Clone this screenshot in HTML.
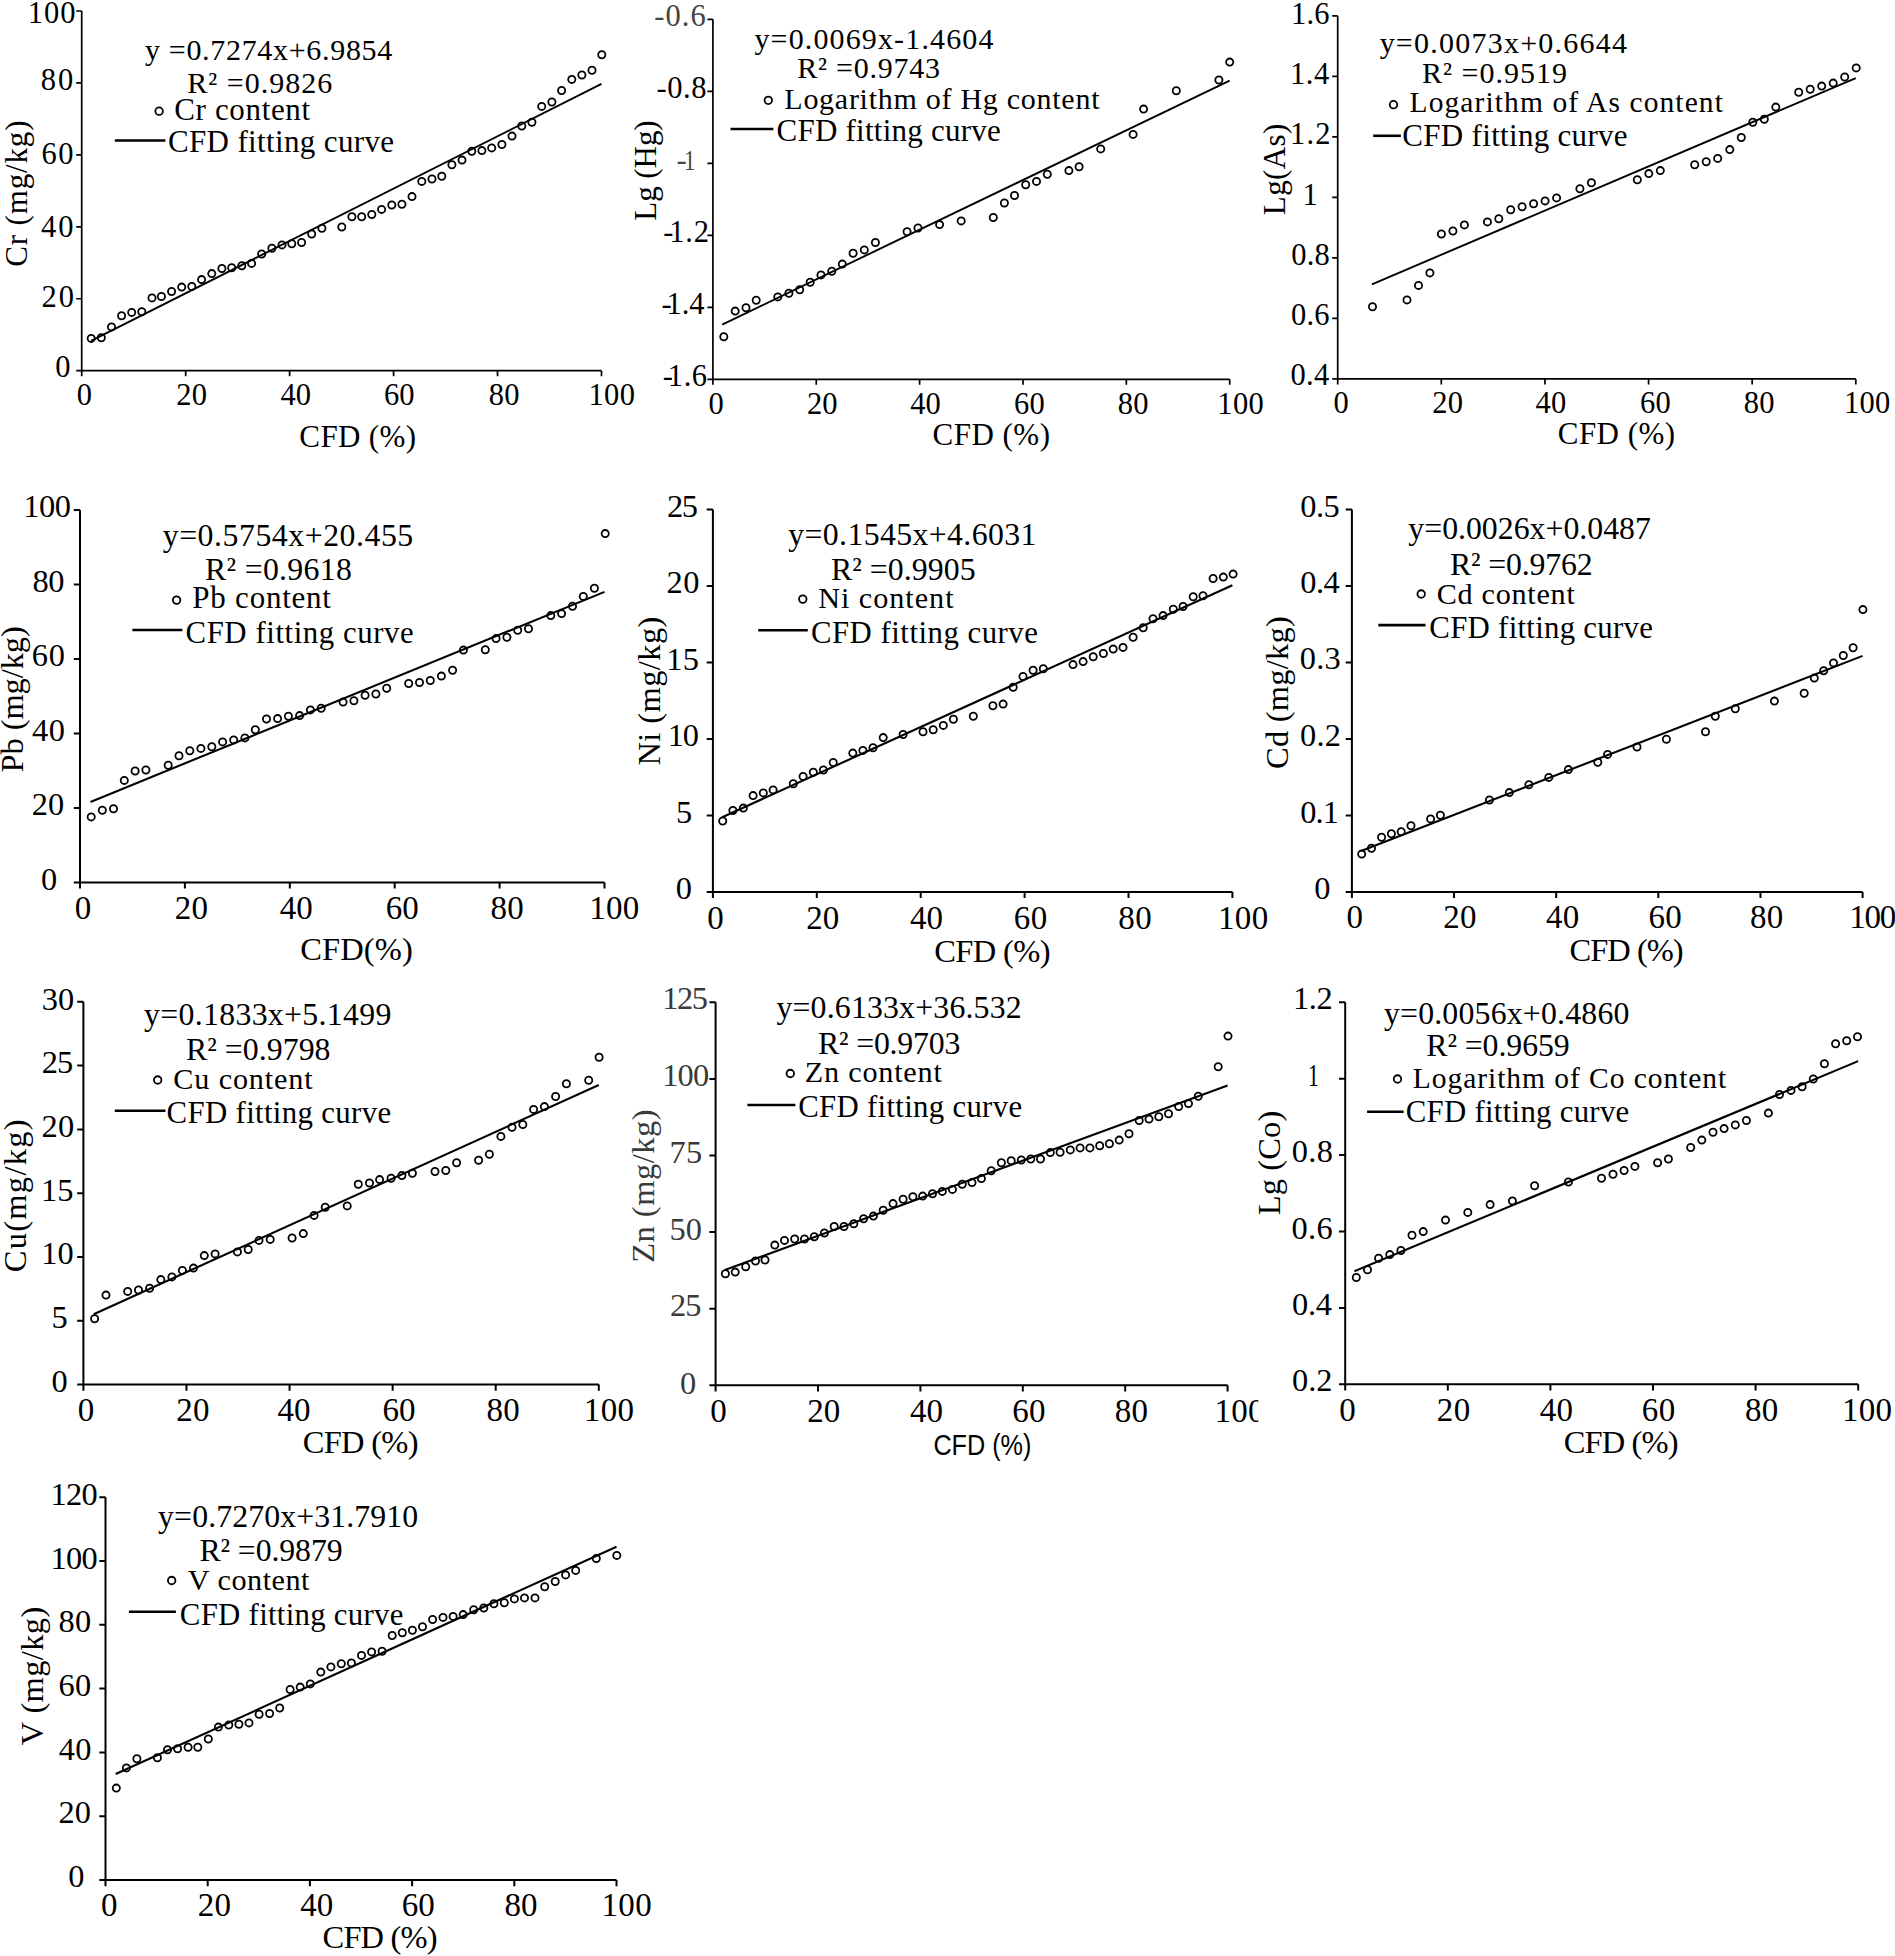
<!DOCTYPE html>
<html><head><meta charset="utf-8"><title>CFD fitting curves</title>
<style>
html,body{margin:0;padding:0;background:#fff;}
body{width:1895px;height:1956px;overflow:hidden;}
svg{display:block;}
text{font-family:"Liberation Serif","Times New Roman",serif;}
text.sans{font-family:"Liberation Sans",Arial,sans-serif;}
text.dejavu{font-family:"DejaVu Sans",sans-serif;}
.ax{fill:none;stroke:#000;}
.fit{fill:none;stroke:#000;}
.lg{fill:none;stroke:#000;stroke-width:2.6;}
.pt circle,.mk{fill:none;stroke:#000;stroke-width:1.8;}
</style></head><body>
<svg width="1895" height="1956" viewBox="0 0 1895 1956">
<path d="M81.70 11.00V370.70H601.50M76.20 370.70H81.70M76.20 298.76H81.70M76.20 226.82H81.70M76.20 154.88H81.70M76.20 82.94H81.70M76.20 11.00H81.70M81.70 370.70V376.20M185.66 370.70V376.20M289.62 370.70V376.20M393.58 370.70V376.20M497.54 370.70V376.20M601.50 370.70V376.20" class="ax" stroke-width="1.70"/>
<path d="M91.06 340.86L601.50 83.93" class="fit" stroke-width="1.90"/>
<g class="pt"><circle cx="91.2" cy="338.4" r="3.60"/><circle cx="101.3" cy="337.7" r="3.60"/><circle cx="111.5" cy="326.9" r="3.60"/><circle cx="121.6" cy="315.8" r="3.60"/><circle cx="131.7" cy="312.4" r="3.60"/><circle cx="141.8" cy="311.7" r="3.60"/><circle cx="152.0" cy="297.9" r="3.60"/><circle cx="161.4" cy="296.5" r="3.60"/><circle cx="171.6" cy="291.5" r="3.60"/><circle cx="181.7" cy="287.1" r="3.60"/><circle cx="191.8" cy="286.4" r="3.60"/><circle cx="201.6" cy="279.6" r="3.60"/><circle cx="211.8" cy="273.6" r="3.60"/><circle cx="221.9" cy="268.5" r="3.60"/><circle cx="231.7" cy="267.8" r="3.60"/><circle cx="241.8" cy="265.8" r="3.60"/><circle cx="251.6" cy="263.4" r="3.60"/><circle cx="261.7" cy="254.0" r="3.60"/><circle cx="271.9" cy="248.2" r="3.60"/><circle cx="282.0" cy="244.9" r="3.60"/><circle cx="291.8" cy="243.8" r="3.60"/><circle cx="301.6" cy="242.5" r="3.60"/><circle cx="311.7" cy="234.0" r="3.60"/><circle cx="321.9" cy="228.3" r="3.60"/><circle cx="341.8" cy="227.0" r="3.60"/><circle cx="351.9" cy="216.8" r="3.60"/><circle cx="361.7" cy="216.8" r="3.60"/><circle cx="371.8" cy="214.5" r="3.60"/><circle cx="381.6" cy="209.4" r="3.60"/><circle cx="391.8" cy="205.0" r="3.60"/><circle cx="401.9" cy="204.3" r="3.60"/><circle cx="412.0" cy="196.6" r="3.60"/><circle cx="421.8" cy="181.4" r="3.60"/><circle cx="432.0" cy="179.0" r="3.60"/><circle cx="441.8" cy="176.3" r="3.60"/><circle cx="451.9" cy="164.8" r="3.60"/><circle cx="462.0" cy="160.1" r="3.60"/><circle cx="471.8" cy="151.3" r="3.60"/><circle cx="481.9" cy="150.6" r="3.60"/><circle cx="491.7" cy="147.9" r="3.60"/><circle cx="501.9" cy="144.5" r="3.60"/><circle cx="512.0" cy="136.1" r="3.60"/><circle cx="521.8" cy="126.0" r="3.60"/><circle cx="531.9" cy="122.3" r="3.60"/><circle cx="541.7" cy="106.4" r="3.60"/><circle cx="551.9" cy="102.0" r="3.60"/><circle cx="561.6" cy="90.5" r="3.60"/><circle cx="571.8" cy="79.4" r="3.60"/><circle cx="581.9" cy="75.0" r="3.60"/><circle cx="592.0" cy="70.2" r="3.60"/><circle cx="601.8" cy="54.7" r="3.60"/></g>
<text x="27.82" y="22.80" font-size="30.50" textLength="47.64" lengthAdjust="spacing">100</text>
<text x="40.74" y="90.00" font-size="30.50" textLength="32.52" lengthAdjust="spacing">80</text>
<text x="41.39" y="164.00" font-size="30.50" textLength="32.17" lengthAdjust="spacing">60</text>
<text x="41.00" y="236.70" font-size="30.50" textLength="32.56" lengthAdjust="spacing">40</text>
<text x="41.56" y="306.60" font-size="30.50" textLength="32.40" lengthAdjust="spacing">20</text>
<text x="55.14" y="377.40" font-size="30.50">0</text>
<text x="76.78" y="404.50" font-size="30.50">0</text>
<text x="176.21" y="404.50" font-size="30.50" textLength="30.80" lengthAdjust="spacing">20</text>
<text x="280.38" y="404.50" font-size="30.50">40</text>
<text x="384.03" y="404.50" font-size="30.50">60</text>
<text x="488.80" y="404.50" font-size="30.50" textLength="30.80" lengthAdjust="spacing">80</text>
<text x="588.57" y="404.50" font-size="30.50" textLength="46.35" lengthAdjust="spacing">100</text>
<text x="299.33" y="446.50" font-size="31.00" textLength="116.73" lengthAdjust="spacing">CFD (%)</text>
<g transform="translate(27.21 265.40) rotate(-90)"><text x="-1.27" y="0.00" font-size="31.00" textLength="146.13" lengthAdjust="spacing">Cr (mg/kg)</text></g>
<text x="144.93" y="59.80" font-size="30.00" textLength="247.33" lengthAdjust="spacing">y =0.7274x+6.9854</text>
<text x="187.24" y="93.10" font-size="30.00" textLength="144.96" lengthAdjust="spacing">R² =0.9826</text>
<circle cx="159.10" cy="111.20" r="3.75" class="mk"/>
<text x="174.23" y="120.20" font-size="31.00" textLength="135.85" lengthAdjust="spacing">Cr content</text>
<path d="M114.80 140.50H165.40" class="lg"/>
<text x="167.93" y="152.00" font-size="31.00" textLength="226.15" lengthAdjust="spacing">CFD fitting curve</text>
<path d="M712.90 19.30V379.30H1229.70M707.40 379.30H712.90M707.40 307.30H712.90M707.40 235.30H712.90M707.40 163.30H712.90M707.40 91.30H712.90M707.40 19.30H712.90M712.90 379.30V384.80M816.26 379.30V384.80M919.62 379.30V384.80M1022.98 379.30V384.80M1126.34 379.30V384.80M1229.70 379.30V384.80" class="ax" stroke-width="1.70"/>
<path d="M722.20 324.57L1229.70 80.64" class="fit" stroke-width="1.90"/>
<g class="pt"><circle cx="723.8" cy="336.7" r="3.60"/><circle cx="735.2" cy="311.1" r="3.60"/><circle cx="746.0" cy="307.7" r="3.60"/><circle cx="756.2" cy="300.2" r="3.60"/><circle cx="777.8" cy="296.9" r="3.60"/><circle cx="788.9" cy="293.2" r="3.60"/><circle cx="799.7" cy="289.8" r="3.60"/><circle cx="810.2" cy="282.3" r="3.60"/><circle cx="821.0" cy="274.9" r="3.60"/><circle cx="831.8" cy="271.2" r="3.60"/><circle cx="842.3" cy="264.1" r="3.60"/><circle cx="853.1" cy="253.3" r="3.60"/><circle cx="864.3" cy="249.9" r="3.60"/><circle cx="875.4" cy="242.5" r="3.60"/><circle cx="907.1" cy="231.7" r="3.60"/><circle cx="918.0" cy="228.0" r="3.60"/><circle cx="939.6" cy="224.6" r="3.60"/><circle cx="961.2" cy="220.9" r="3.60"/><circle cx="993.3" cy="217.5" r="3.60"/><circle cx="1004.4" cy="203.0" r="3.60"/><circle cx="1014.5" cy="195.5" r="3.60"/><circle cx="1025.7" cy="184.7" r="3.60"/><circle cx="1036.5" cy="181.4" r="3.60"/><circle cx="1047.3" cy="174.3" r="3.60"/><circle cx="1068.9" cy="170.6" r="3.60"/><circle cx="1079.1" cy="166.8" r="3.60"/><circle cx="1100.7" cy="148.9" r="3.60"/><circle cx="1133.1" cy="134.4" r="3.60"/><circle cx="1143.6" cy="109.1" r="3.60"/><circle cx="1176.3" cy="90.8" r="3.60"/><circle cx="1218.9" cy="80.0" r="3.60"/><circle cx="1229.7" cy="62.1" r="3.60"/></g>
<text x="654.17" y="26.20" font-size="30.50" textLength="51.54" lengthAdjust="spacing" fill="#444">-0.6</text>
<text x="656.47" y="98.20" font-size="30.50" textLength="50.09" lengthAdjust="spacing">-0.8</text>
<text x="676.57" y="169.80" font-size="30.50" fill="#444">-</text>
<text x="683.32" y="169.80" font-size="30.50" fill="#444" transform="matrix(0.7450 0 0 1 174.896 0)">1</text>
<text x="663.37" y="241.80" font-size="30.50">-</text>
<text x="669.22" y="241.80" font-size="30.50" textLength="39.66" lengthAdjust="spacing">1.2</text>
<text x="661.47" y="314.20" font-size="30.50">-</text>
<text x="666.42" y="314.20" font-size="30.50">1.4</text>
<text x="662.67" y="386.40" font-size="30.50">-</text>
<text x="667.82" y="386.40" font-size="30.50" textLength="39.29" lengthAdjust="spacing">1.6</text>
<text x="708.38" y="413.70" font-size="30.50">0</text>
<text x="806.91" y="413.70" font-size="30.50">20</text>
<text x="910.28" y="413.70" font-size="30.50">40</text>
<text x="1013.93" y="413.70" font-size="30.50" textLength="30.80" lengthAdjust="spacing">60</text>
<text x="1117.70" y="413.70" font-size="30.50" textLength="30.80" lengthAdjust="spacing">80</text>
<text x="1217.37" y="413.80" font-size="30.50" textLength="46.35" lengthAdjust="spacing">100</text>
<text x="932.53" y="445.10" font-size="31.00" textLength="117.43" lengthAdjust="spacing">CFD (%)</text>
<g transform="translate(655.61 219.80) rotate(-90)"><text x="-0.89" y="0.00" font-size="31.00" textLength="100.36" lengthAdjust="spacing">Lg (Hg)</text></g>
<text x="754.43" y="49.00" font-size="30.00" textLength="239.03" lengthAdjust="spacing">y=0.0069x-1.4604</text>
<text x="797.14" y="78.40" font-size="30.00" textLength="142.94" lengthAdjust="spacing">R² =0.9743</text>
<circle cx="768.30" cy="100.30" r="3.75" class="mk"/>
<text x="784.34" y="108.50" font-size="30.00" textLength="315.14" lengthAdjust="spacing">Logarithm of Hg content</text>
<path d="M730.50 129.00H773.40" class="lg"/>
<text x="776.53" y="140.90" font-size="31.00" textLength="224.25" lengthAdjust="spacing">CFD fitting curve</text>
<path d="M1337.70 15.90V378.90H1855.80M1332.20 378.90H1337.70M1332.20 318.40H1337.70M1332.20 257.90H1337.70M1332.20 197.40H1337.70M1332.20 136.90H1337.70M1332.20 76.40H1337.70M1332.20 15.90H1337.70M1337.70 378.90V384.40M1441.32 378.90V384.40M1544.94 378.90V384.40M1648.56 378.90V384.40M1752.18 378.90V384.40M1855.80 378.90V384.40" class="ax" stroke-width="1.70"/>
<path d="M1371.89 284.34L1855.80 78.09" class="fit" stroke-width="1.90"/>
<g class="pt"><circle cx="1372.5" cy="306.7" r="3.60"/><circle cx="1407.0" cy="299.9" r="3.60"/><circle cx="1418.5" cy="285.4" r="3.60"/><circle cx="1429.9" cy="272.9" r="3.60"/><circle cx="1441.4" cy="234.0" r="3.60"/><circle cx="1452.9" cy="231.0" r="3.60"/><circle cx="1464.4" cy="224.9" r="3.60"/><circle cx="1487.4" cy="221.9" r="3.60"/><circle cx="1498.8" cy="218.8" r="3.60"/><circle cx="1510.7" cy="209.7" r="3.60"/><circle cx="1522.1" cy="206.7" r="3.60"/><circle cx="1533.6" cy="203.7" r="3.60"/><circle cx="1545.1" cy="200.9" r="3.60"/><circle cx="1556.6" cy="197.9" r="3.60"/><circle cx="1579.9" cy="188.8" r="3.60"/><circle cx="1591.4" cy="182.7" r="3.60"/><circle cx="1637.3" cy="179.7" r="3.60"/><circle cx="1648.8" cy="173.6" r="3.60"/><circle cx="1660.3" cy="170.6" r="3.60"/><circle cx="1694.7" cy="164.8" r="3.60"/><circle cx="1706.2" cy="161.8" r="3.60"/><circle cx="1717.7" cy="158.4" r="3.60"/><circle cx="1729.8" cy="149.6" r="3.60"/><circle cx="1741.3" cy="137.5" r="3.60"/><circle cx="1752.8" cy="122.3" r="3.60"/><circle cx="1764.3" cy="119.2" r="3.60"/><circle cx="1775.8" cy="107.1" r="3.60"/><circle cx="1798.7" cy="92.2" r="3.60"/><circle cx="1810.2" cy="89.2" r="3.60"/><circle cx="1821.7" cy="86.1" r="3.60"/><circle cx="1833.2" cy="83.1" r="3.60"/><circle cx="1844.7" cy="77.0" r="3.60"/><circle cx="1856.2" cy="67.9" r="3.60"/></g>
<text x="1290.88" y="23.60" font-size="30.50" textLength="38.72" lengthAdjust="spacing">1.6</text>
<text x="1290.02" y="83.80" font-size="30.50" textLength="39.16" lengthAdjust="spacing">1.4</text>
<text x="1290.02" y="143.80" font-size="30.50" textLength="40.36" lengthAdjust="spacing">1.2</text>
<text x="1302.38" y="204.50" font-size="30.50">1</text>
<text x="1291.14" y="264.60" font-size="30.50" textLength="38.72" lengthAdjust="spacing">0.8</text>
<text x="1290.88" y="324.80" font-size="30.50" textLength="38.72" lengthAdjust="spacing">0.6</text>
<text x="1290.45" y="385.20" font-size="30.50" textLength="38.72" lengthAdjust="spacing">0.4</text>
<text x="1333.47" y="412.70" font-size="30.50">0</text>
<text x="1432.21" y="412.70" font-size="30.50" textLength="30.80" lengthAdjust="spacing">20</text>
<text x="1535.38" y="412.70" font-size="30.50" textLength="30.80" lengthAdjust="spacing">40</text>
<text x="1639.93" y="412.70" font-size="30.50" textLength="30.80" lengthAdjust="spacing">60</text>
<text x="1743.70" y="412.70" font-size="30.50" textLength="30.80" lengthAdjust="spacing">80</text>
<text x="1843.97" y="412.70" font-size="30.50" textLength="46.35" lengthAdjust="spacing">100</text>
<text x="1557.73" y="443.90" font-size="31.00" textLength="117.43" lengthAdjust="spacing">CFD (%)</text>
<g transform="translate(1284.71 214.30) rotate(-90)"><text x="-0.89" y="0.00" font-size="31.00" textLength="91.56" lengthAdjust="spacing">Lg(As)</text></g>
<text x="1379.63" y="53.40" font-size="30.00" textLength="247.33" lengthAdjust="spacing">y=0.0073x+0.6644</text>
<text x="1421.94" y="83.00" font-size="30.00" textLength="144.99" lengthAdjust="spacing">R² =0.9519</text>
<circle cx="1393.50" cy="104.70" r="3.75" class="mk"/>
<text x="1409.55" y="112.20" font-size="29.50" textLength="313.32" lengthAdjust="spacing">Logarithm of As content</text>
<path d="M1373.20 135.80H1400.90" class="lg"/>
<text x="1402.33" y="145.60" font-size="31.00" textLength="225.25" lengthAdjust="spacing">CFD fitting curve</text>
<path d="M80.00 509.90V882.40H604.50M73.80 882.40H80.00M73.80 807.90H80.00M73.80 733.40H80.00M73.80 658.90H80.00M73.80 584.40H80.00M73.80 509.90H80.00M80.00 882.40V888.60M184.90 882.40V888.60M289.80 882.40V888.60M394.70 882.40V888.60M499.60 882.40V888.60M604.50 882.40V888.60" class="ax" stroke-width="2.00"/>
<path d="M90.49 801.92L604.50 591.87" class="fit" stroke-width="2.10"/>
<g class="pt"><circle cx="91.2" cy="816.9" r="3.60"/><circle cx="102.3" cy="810.2" r="3.60"/><circle cx="113.5" cy="808.8" r="3.60"/><circle cx="124.3" cy="780.4" r="3.60"/><circle cx="135.1" cy="771.0" r="3.60"/><circle cx="145.9" cy="770.0" r="3.60"/><circle cx="168.2" cy="765.3" r="3.60"/><circle cx="179.0" cy="755.8" r="3.60"/><circle cx="189.8" cy="750.7" r="3.60"/><circle cx="200.9" cy="748.4" r="3.60"/><circle cx="211.8" cy="746.7" r="3.60"/><circle cx="222.6" cy="741.9" r="3.60"/><circle cx="233.7" cy="739.9" r="3.60"/><circle cx="244.9" cy="737.9" r="3.60"/><circle cx="255.3" cy="729.8" r="3.60"/><circle cx="266.5" cy="719.0" r="3.60"/><circle cx="277.6" cy="718.6" r="3.60"/><circle cx="288.4" cy="716.3" r="3.60"/><circle cx="299.6" cy="715.6" r="3.60"/><circle cx="310.4" cy="709.9" r="3.60"/><circle cx="321.2" cy="708.2" r="3.60"/><circle cx="343.1" cy="702.1" r="3.60"/><circle cx="353.9" cy="700.7" r="3.60"/><circle cx="365.1" cy="695.3" r="3.60"/><circle cx="375.9" cy="694.0" r="3.60"/><circle cx="386.7" cy="688.2" r="3.60"/><circle cx="408.7" cy="683.5" r="3.60"/><circle cx="419.5" cy="682.5" r="3.60"/><circle cx="430.3" cy="680.5" r="3.60"/><circle cx="441.4" cy="676.1" r="3.60"/><circle cx="452.6" cy="670.3" r="3.60"/><circle cx="463.4" cy="650.1" r="3.60"/><circle cx="485.3" cy="649.7" r="3.60"/><circle cx="496.1" cy="638.6" r="3.60"/><circle cx="506.9" cy="637.3" r="3.60"/><circle cx="517.7" cy="630.2" r="3.60"/><circle cx="528.5" cy="628.8" r="3.60"/><circle cx="550.8" cy="615.6" r="3.60"/><circle cx="561.6" cy="613.6" r="3.60"/><circle cx="572.5" cy="606.2" r="3.60"/><circle cx="583.3" cy="596.4" r="3.60"/><circle cx="594.4" cy="588.3" r="3.60"/><circle cx="605.2" cy="533.6" r="3.60"/></g>
<text x="23.35" y="516.70" font-size="32.40" textLength="47.68" lengthAdjust="spacing">100</text>
<text x="32.57" y="591.50" font-size="32.40" textLength="31.97" lengthAdjust="spacing">80</text>
<text x="31.81" y="665.80" font-size="32.40" textLength="33.03" lengthAdjust="spacing">60</text>
<text x="31.97" y="740.60" font-size="32.40" textLength="32.87" lengthAdjust="spacing">40</text>
<text x="31.86" y="815.00" font-size="32.40">20</text>
<text x="40.90" y="889.50" font-size="32.40">0</text>
<text x="74.75" y="918.50" font-size="33.00">0</text>
<text x="174.65" y="918.50" font-size="33.00" textLength="33.30" lengthAdjust="spacing">20</text>
<text x="279.86" y="918.50" font-size="33.00">40</text>
<text x="385.67" y="918.50" font-size="33.00">60</text>
<text x="490.55" y="918.50" font-size="33.00" textLength="33.30" lengthAdjust="spacing">80</text>
<text x="589.13" y="918.50" font-size="33.00" textLength="50.10" lengthAdjust="spacing">100</text>
<text x="300.27" y="960.40" font-size="32.50" textLength="112.46" lengthAdjust="spacing">CFD(%)</text>
<g transform="translate(22.75 771.50) rotate(-90)"><text x="-0.94" y="0.00" font-size="32.50" textLength="146.26" lengthAdjust="spacing">Pb (mg/kg)</text></g>
<text x="162.71" y="545.70" font-size="31.80" textLength="250.53" lengthAdjust="spacing">y=0.5754x+20.455</text>
<text x="205.08" y="580.30" font-size="31.80" textLength="146.73" lengthAdjust="spacing">R² =0.9618</text>
<circle cx="176.60" cy="600.10" r="3.75" class="mk"/>
<text x="192.31" y="608.00" font-size="31.00" textLength="138.67" lengthAdjust="spacing">Pb content</text>
<path d="M132.40 630.00H182.40" class="lg"/>
<text x="185.54" y="642.90" font-size="30.80" textLength="228.23" lengthAdjust="spacing">CFD fitting curve</text>
<path d="M712.90 509.60V891.90H1232.40M706.70 891.90H712.90M706.70 815.44H712.90M706.70 738.98H712.90M706.70 662.52H712.90M706.70 586.06H712.90M706.70 509.60H712.90M712.90 891.90V898.10M816.80 891.90V898.10M920.70 891.90V898.10M1024.60 891.90V898.10M1128.50 891.90V898.10M1232.40 891.90V898.10" class="ax" stroke-width="2.00"/>
<path d="M722.25 817.26L1232.40 585.25" class="fit" stroke-width="2.10"/>
<g class="pt"><circle cx="722.7" cy="821.0" r="3.60"/><circle cx="732.9" cy="810.5" r="3.60"/><circle cx="743.3" cy="808.1" r="3.60"/><circle cx="753.1" cy="795.6" r="3.60"/><circle cx="763.3" cy="792.9" r="3.60"/><circle cx="773.1" cy="789.9" r="3.60"/><circle cx="793.3" cy="783.8" r="3.60"/><circle cx="803.1" cy="776.4" r="3.60"/><circle cx="813.3" cy="772.3" r="3.60"/><circle cx="823.4" cy="770.0" r="3.60"/><circle cx="833.2" cy="762.5" r="3.60"/><circle cx="852.8" cy="753.1" r="3.60"/><circle cx="862.9" cy="750.4" r="3.60"/><circle cx="873.0" cy="747.7" r="3.60"/><circle cx="883.2" cy="737.6" r="3.60"/><circle cx="903.1" cy="734.5" r="3.60"/><circle cx="923.0" cy="731.8" r="3.60"/><circle cx="933.2" cy="729.8" r="3.60"/><circle cx="943.3" cy="725.4" r="3.60"/><circle cx="953.4" cy="719.3" r="3.60"/><circle cx="973.3" cy="716.3" r="3.60"/><circle cx="992.9" cy="705.8" r="3.60"/><circle cx="1003.1" cy="704.1" r="3.60"/><circle cx="1013.2" cy="687.2" r="3.60"/><circle cx="1023.0" cy="676.4" r="3.60"/><circle cx="1033.1" cy="670.3" r="3.60"/><circle cx="1043.3" cy="668.7" r="3.60"/><circle cx="1073.0" cy="664.6" r="3.60"/><circle cx="1083.1" cy="661.6" r="3.60"/><circle cx="1093.2" cy="656.8" r="3.60"/><circle cx="1103.4" cy="653.5" r="3.60"/><circle cx="1113.2" cy="649.1" r="3.60"/><circle cx="1123.0" cy="647.4" r="3.60"/><circle cx="1133.1" cy="637.3" r="3.60"/><circle cx="1143.2" cy="627.8" r="3.60"/><circle cx="1153.0" cy="618.7" r="3.60"/><circle cx="1163.1" cy="615.6" r="3.60"/><circle cx="1173.3" cy="609.2" r="3.60"/><circle cx="1183.1" cy="606.5" r="3.60"/><circle cx="1193.2" cy="596.7" r="3.60"/><circle cx="1203.0" cy="595.7" r="3.60"/><circle cx="1213.1" cy="578.5" r="3.60"/><circle cx="1223.3" cy="577.1" r="3.60"/><circle cx="1233.1" cy="574.1" r="3.60"/></g>
<text x="666.88" y="516.60" font-size="32.40" textLength="31.19" lengthAdjust="spacing">25</text>
<text x="666.48" y="593.40" font-size="32.40" textLength="32.96" lengthAdjust="spacing">20</text>
<text x="666.36" y="669.90" font-size="32.40" textLength="32.70" lengthAdjust="spacing">15</text>
<text x="667.75" y="746.20" font-size="32.40" textLength="31.18" lengthAdjust="spacing">10</text>
<text x="676.02" y="822.60" font-size="32.40">5</text>
<text x="675.77" y="899.20" font-size="32.40">0</text>
<text x="707.35" y="928.70" font-size="33.00">0</text>
<text x="806.15" y="928.70" font-size="33.00">20</text>
<text x="910.06" y="928.70" font-size="33.00">40</text>
<text x="1013.87" y="928.70" font-size="33.00" textLength="33.30" lengthAdjust="spacing">60</text>
<text x="1118.35" y="928.70" font-size="33.00" textLength="33.30" lengthAdjust="spacing">80</text>
<text x="1218.03" y="928.70" font-size="33.00" textLength="50.10" lengthAdjust="spacing">100</text>
<text x="934.17" y="961.90" font-size="32.50" textLength="116.46" lengthAdjust="spacing">CFD (%)</text>
<g transform="translate(659.95 764.60) rotate(-90)"><text x="-0.94" y="0.00" font-size="32.50" textLength="148.96" lengthAdjust="spacing">Ni (mg/kg)</text></g>
<text x="788.21" y="544.80" font-size="31.80" textLength="248.20" lengthAdjust="spacing">y=0.1545x+4.6031</text>
<text x="830.88" y="579.80" font-size="31.80" textLength="144.66" lengthAdjust="spacing">R² =0.9905</text>
<circle cx="802.80" cy="599.10" r="3.75" class="mk"/>
<text x="818.13" y="608.40" font-size="30.20" textLength="135.45" lengthAdjust="spacing">Ni content</text>
<path d="M758.20 630.20H807.80" class="lg"/>
<text x="810.94" y="642.80" font-size="30.80" textLength="226.93" lengthAdjust="spacing">CFD fitting curve</text>
<path d="M1351.90 509.60V891.90H1862.60M1345.70 891.90H1351.90M1345.70 815.44H1351.90M1345.70 738.98H1351.90M1345.70 662.52H1351.90M1345.70 586.06H1351.90M1345.70 509.60H1351.90M1351.90 891.90V898.10M1454.04 891.90V898.10M1556.18 891.90V898.10M1658.32 891.90V898.10M1760.46 891.90V898.10M1862.60 891.90V898.10" class="ax" stroke-width="2.00"/>
<path d="M1361.09 851.09L1862.60 655.87" class="fit" stroke-width="2.10"/>
<g class="pt"><circle cx="1361.7" cy="854.1" r="3.60"/><circle cx="1371.5" cy="848.3" r="3.60"/><circle cx="1381.6" cy="837.2" r="3.60"/><circle cx="1391.4" cy="833.8" r="3.60"/><circle cx="1401.2" cy="831.8" r="3.60"/><circle cx="1411.0" cy="825.7" r="3.60"/><circle cx="1430.6" cy="818.9" r="3.60"/><circle cx="1440.4" cy="815.2" r="3.60"/><circle cx="1489.4" cy="800.0" r="3.60"/><circle cx="1509.3" cy="792.6" r="3.60"/><circle cx="1528.9" cy="784.8" r="3.60"/><circle cx="1548.8" cy="777.4" r="3.60"/><circle cx="1568.4" cy="769.6" r="3.60"/><circle cx="1597.8" cy="762.2" r="3.60"/><circle cx="1607.6" cy="754.4" r="3.60"/><circle cx="1637.0" cy="747.0" r="3.60"/><circle cx="1666.4" cy="739.2" r="3.60"/><circle cx="1705.5" cy="731.8" r="3.60"/><circle cx="1715.3" cy="716.3" r="3.60"/><circle cx="1735.3" cy="708.8" r="3.60"/><circle cx="1774.4" cy="701.1" r="3.60"/><circle cx="1804.2" cy="693.3" r="3.60"/><circle cx="1814.3" cy="678.1" r="3.60"/><circle cx="1823.7" cy="670.7" r="3.60"/><circle cx="1833.5" cy="662.9" r="3.60"/><circle cx="1843.3" cy="655.5" r="3.60"/><circle cx="1853.1" cy="647.7" r="3.60"/><circle cx="1862.9" cy="609.6" r="3.60"/></g>
<text x="1300.27" y="517.00" font-size="32.40" textLength="39.50" lengthAdjust="spacing">0.5</text>
<text x="1300.27" y="592.90" font-size="32.40" textLength="39.34" lengthAdjust="spacing">0.4</text>
<text x="1299.67" y="669.40" font-size="32.40" textLength="41.10" lengthAdjust="spacing">0.3</text>
<text x="1299.93" y="746.00" font-size="32.40" textLength="41.10" lengthAdjust="spacing">0.2</text>
<text x="1300.27" y="822.60" font-size="32.40" textLength="38.68" lengthAdjust="spacing">0.1</text>
<text x="1314.37" y="898.50" font-size="32.40">0</text>
<text x="1346.55" y="928.40" font-size="33.00">0</text>
<text x="1443.25" y="928.40" font-size="33.00" textLength="33.30" lengthAdjust="spacing">20</text>
<text x="1546.06" y="928.40" font-size="33.00" textLength="33.30" lengthAdjust="spacing">40</text>
<text x="1648.57" y="928.40" font-size="33.00" textLength="33.30" lengthAdjust="spacing">60</text>
<text x="1749.95" y="928.40" font-size="33.00" textLength="33.30" lengthAdjust="spacing">80</text>
<text x="1849.30" y="928.40" font-size="33.00" textLength="46.86" lengthAdjust="spacing">100</text>
<text x="1569.47" y="960.90" font-size="32.50" textLength="114.16" lengthAdjust="spacing">CFD (%)</text>
<g transform="translate(1288.45 767.60) rotate(-90)"><text x="-1.33" y="0.00" font-size="32.50" textLength="152.76" lengthAdjust="spacing">Cd (mg/kg)</text></g>
<text x="1408.31" y="539.00" font-size="31.80">y=0.0026x+0.0487</text>
<text x="1449.98" y="575.40" font-size="31.80" textLength="142.77" lengthAdjust="spacing">R² =0.9762</text>
<circle cx="1421.20" cy="594.00" r="3.75" class="mk"/>
<text x="1436.66" y="603.80" font-size="30.20" textLength="138.12" lengthAdjust="spacing">Cd content</text>
<path d="M1378.30 625.10H1425.50" class="lg"/>
<text x="1429.34" y="637.80" font-size="30.80" textLength="223.53" lengthAdjust="spacing">CFD fitting curve</text>
<path d="M83.40 1001.80V1384.60H598.80M77.20 1384.60H83.40M77.20 1320.80H83.40M77.20 1257.00H83.40M77.20 1193.20H83.40M77.20 1129.40H83.40M77.20 1065.60H83.40M77.20 1001.80H83.40M83.40 1384.60V1390.80M186.48 1384.60V1390.80M289.56 1384.60V1390.80M392.64 1384.60V1390.80M495.72 1384.60V1390.80M598.80 1384.60V1390.80" class="ax" stroke-width="2.00"/>
<path d="M93.71 1314.21L598.80 1085.00" class="fit" stroke-width="2.10"/>
<g class="pt"><circle cx="94.6" cy="1318.7" r="3.60"/><circle cx="106.0" cy="1295.1" r="3.60"/><circle cx="127.7" cy="1291.4" r="3.60"/><circle cx="138.5" cy="1290.0" r="3.60"/><circle cx="149.6" cy="1288.3" r="3.60"/><circle cx="160.8" cy="1279.6" r="3.60"/><circle cx="171.9" cy="1276.9" r="3.60"/><circle cx="182.4" cy="1270.4" r="3.60"/><circle cx="193.5" cy="1268.1" r="3.60"/><circle cx="204.3" cy="1255.6" r="3.60"/><circle cx="215.1" cy="1253.9" r="3.60"/><circle cx="237.4" cy="1251.9" r="3.60"/><circle cx="248.2" cy="1249.5" r="3.60"/><circle cx="259.0" cy="1240.4" r="3.60"/><circle cx="270.2" cy="1239.4" r="3.60"/><circle cx="292.1" cy="1238.0" r="3.60"/><circle cx="303.3" cy="1233.6" r="3.60"/><circle cx="314.1" cy="1215.4" r="3.60"/><circle cx="325.2" cy="1207.3" r="3.60"/><circle cx="347.2" cy="1205.9" r="3.60"/><circle cx="358.3" cy="1184.3" r="3.60"/><circle cx="369.5" cy="1183.0" r="3.60"/><circle cx="379.6" cy="1179.6" r="3.60"/><circle cx="391.1" cy="1178.2" r="3.60"/><circle cx="401.9" cy="1175.5" r="3.60"/><circle cx="412.4" cy="1173.2" r="3.60"/><circle cx="435.0" cy="1171.5" r="3.60"/><circle cx="445.8" cy="1170.5" r="3.60"/><circle cx="456.6" cy="1162.7" r="3.60"/><circle cx="478.6" cy="1160.3" r="3.60"/><circle cx="489.4" cy="1154.3" r="3.60"/><circle cx="500.9" cy="1136.4" r="3.60"/><circle cx="512.0" cy="1127.3" r="3.60"/><circle cx="522.8" cy="1124.5" r="3.60"/><circle cx="533.6" cy="1109.4" r="3.60"/><circle cx="544.4" cy="1106.6" r="3.60"/><circle cx="555.6" cy="1096.5" r="3.60"/><circle cx="566.4" cy="1083.7" r="3.60"/><circle cx="588.7" cy="1080.3" r="3.60"/><circle cx="599.1" cy="1057.3" r="3.60"/></g>
<text x="41.85" y="1010.00" font-size="32.40">30</text>
<text x="41.78" y="1073.00" font-size="32.40" textLength="31.39" lengthAdjust="spacing">25</text>
<text x="41.56" y="1137.20" font-size="32.40" textLength="32.70" lengthAdjust="spacing">20</text>
<text x="41.06" y="1200.80" font-size="32.40">15</text>
<text x="41.24" y="1264.40" font-size="32.40">10</text>
<text x="51.42" y="1328.10" font-size="32.40">5</text>
<text x="51.57" y="1391.50" font-size="32.40">0</text>
<text x="77.85" y="1420.80" font-size="33.00">0</text>
<text x="176.25" y="1420.80" font-size="33.00" textLength="33.30" lengthAdjust="spacing">20</text>
<text x="277.46" y="1420.80" font-size="33.00">40</text>
<text x="382.47" y="1420.80" font-size="33.00">60</text>
<text x="486.55" y="1420.80" font-size="33.00" textLength="33.30" lengthAdjust="spacing">80</text>
<text x="583.83" y="1420.80" font-size="33.00" textLength="50.10" lengthAdjust="spacing">100</text>
<text x="302.67" y="1453.10" font-size="32.50" textLength="115.86" lengthAdjust="spacing">CFD (%)</text>
<g transform="translate(25.55 1270.90) rotate(-90)"><text x="-1.33" y="0.00" font-size="32.50" textLength="152.76" lengthAdjust="spacing">Cu(mg/kg)</text></g>
<text x="144.11" y="1024.60" font-size="31.80" textLength="247.19" lengthAdjust="spacing">y=0.1833x+5.1499</text>
<text x="185.88" y="1060.30" font-size="31.80" textLength="144.63" lengthAdjust="spacing">R² =0.9798</text>
<circle cx="157.70" cy="1080.00" r="3.75" class="mk"/>
<text x="173.36" y="1089.00" font-size="30.20" textLength="139.22" lengthAdjust="spacing">Cu content</text>
<path d="M114.80 1110.70H165.50" class="lg"/>
<text x="166.54" y="1122.50" font-size="30.80" textLength="224.53" lengthAdjust="spacing">CFD fitting curve</text>
<path d="M715.60 1002.30V1385.30H1227.60M709.40 1385.30H715.60M709.40 1308.70H715.60M709.40 1232.10H715.60M709.40 1155.50H715.60M709.40 1078.90H715.60M709.40 1002.30H715.60M715.60 1385.30V1391.50M818.00 1385.30V1391.50M920.40 1385.30V1391.50M1022.80 1385.30V1391.50M1125.20 1385.30V1391.50M1227.60 1385.30V1391.50" class="ax" stroke-width="2.00"/>
<path d="M724.82 1269.98L1227.60 1085.45" class="fit" stroke-width="2.10"/>
<g class="pt"><circle cx="725.4" cy="1273.8" r="3.60"/><circle cx="735.2" cy="1272.1" r="3.60"/><circle cx="745.7" cy="1266.7" r="3.60"/><circle cx="755.5" cy="1261.0" r="3.60"/><circle cx="765.0" cy="1260.0" r="3.60"/><circle cx="774.8" cy="1245.1" r="3.60"/><circle cx="784.5" cy="1240.4" r="3.60"/><circle cx="794.7" cy="1239.0" r="3.60"/><circle cx="804.5" cy="1239.0" r="3.60"/><circle cx="814.3" cy="1236.7" r="3.60"/><circle cx="824.4" cy="1233.0" r="3.60"/><circle cx="834.2" cy="1226.5" r="3.60"/><circle cx="844.0" cy="1226.5" r="3.60"/><circle cx="853.8" cy="1223.8" r="3.60"/><circle cx="863.6" cy="1218.8" r="3.60"/><circle cx="873.4" cy="1216.1" r="3.60"/><circle cx="883.2" cy="1210.3" r="3.60"/><circle cx="893.0" cy="1203.6" r="3.60"/><circle cx="903.1" cy="1199.2" r="3.60"/><circle cx="912.9" cy="1196.8" r="3.60"/><circle cx="922.7" cy="1196.1" r="3.60"/><circle cx="932.5" cy="1193.8" r="3.60"/><circle cx="942.3" cy="1191.4" r="3.60"/><circle cx="952.4" cy="1189.4" r="3.60"/><circle cx="962.2" cy="1184.3" r="3.60"/><circle cx="972.0" cy="1182.6" r="3.60"/><circle cx="981.4" cy="1178.6" r="3.60"/><circle cx="991.2" cy="1170.8" r="3.60"/><circle cx="1001.4" cy="1162.7" r="3.60"/><circle cx="1011.2" cy="1160.7" r="3.60"/><circle cx="1021.3" cy="1160.0" r="3.60"/><circle cx="1030.8" cy="1159.0" r="3.60"/><circle cx="1040.5" cy="1159.0" r="3.60"/><circle cx="1050.3" cy="1152.6" r="3.60"/><circle cx="1060.1" cy="1152.2" r="3.60"/><circle cx="1070.3" cy="1149.9" r="3.60"/><circle cx="1080.1" cy="1147.9" r="3.60"/><circle cx="1089.9" cy="1147.9" r="3.60"/><circle cx="1099.7" cy="1145.8" r="3.60"/><circle cx="1109.4" cy="1143.8" r="3.60"/><circle cx="1119.2" cy="1140.1" r="3.60"/><circle cx="1129.0" cy="1133.7" r="3.60"/><circle cx="1139.2" cy="1120.5" r="3.60"/><circle cx="1149.0" cy="1119.1" r="3.60"/><circle cx="1158.8" cy="1116.8" r="3.60"/><circle cx="1168.5" cy="1113.7" r="3.60"/><circle cx="1178.7" cy="1106.6" r="3.60"/><circle cx="1188.5" cy="1103.6" r="3.60"/><circle cx="1198.3" cy="1096.2" r="3.60"/><circle cx="1218.2" cy="1066.8" r="3.60"/><circle cx="1228.0" cy="1036.1" r="3.60"/></g>
<text x="662.15" y="1009.10" font-size="32.40" textLength="45.81" lengthAdjust="spacing" fill="#3a3a3a">125</text>
<text x="662.15" y="1086.40" font-size="32.40" textLength="46.98" lengthAdjust="spacing" fill="#3a3a3a">100</text>
<text x="669.41" y="1162.70" font-size="32.40" textLength="32.70" lengthAdjust="spacing" fill="#3a3a3a">75</text>
<text x="669.53" y="1239.50" font-size="32.40" fill="#3a3a3a">50</text>
<text x="670.08" y="1316.20" font-size="32.40" textLength="31.49" lengthAdjust="spacing" fill="#3a3a3a">25</text>
<text x="679.97" y="1393.50" font-size="32.40" fill="#3a3a3a">0</text>
<text x="710.15" y="1421.70" font-size="33.00">0</text>
<text x="807.35" y="1421.70" font-size="33.00">20</text>
<text x="910.06" y="1421.70" font-size="33.00">40</text>
<text x="1012.27" y="1421.70" font-size="33.00" textLength="33.30" lengthAdjust="spacing">60</text>
<text x="1114.75" y="1421.70" font-size="33.00" textLength="33.30" lengthAdjust="spacing">80</text>
<text x="1214.43" y="1421.70" font-size="33.00" textLength="50.10" lengthAdjust="spacing">100</text>
<text x="933.40" y="1454.60" font-size="29.50" textLength="98.03" lengthAdjust="spacingAndGlyphs" class="sans">CFD (%)</text>
<g transform="translate(653.65 1261.30) rotate(-90)"><text x="-1.56" y="0.00" font-size="32.50" textLength="153.38" lengthAdjust="spacing" fill="#3a3a3a">Zn (mg/kg)</text></g>
<text x="776.41" y="1018.30" font-size="31.80" textLength="245.24" lengthAdjust="spacing">y=0.6133x+36.532</text>
<text x="818.08" y="1053.80" font-size="31.80" textLength="142.26" lengthAdjust="spacing">R² =0.9703</text>
<circle cx="790.30" cy="1073.50" r="3.75" class="mk"/>
<text x="804.75" y="1082.20" font-size="30.20" textLength="137.02" lengthAdjust="spacing">Zn content</text>
<path d="M747.40 1105.00H795.40" class="lg"/>
<text x="798.14" y="1116.70" font-size="30.80" textLength="223.93" lengthAdjust="spacing">CFD fitting curve</text>
<rect x="1258.3" y="1394" width="28" height="34" fill="#fff"/>
<path d="M1345.20 1002.30V1384.30H1858.20M1339.00 1384.30H1345.20M1339.00 1307.90H1345.20M1339.00 1231.50H1345.20M1339.00 1155.10H1345.20M1339.00 1078.70H1345.20M1339.00 1002.30H1345.20M1345.20 1384.30V1390.50M1447.80 1384.30V1390.50M1550.40 1384.30V1390.50M1653.00 1384.30V1390.50M1755.60 1384.30V1390.50M1858.20 1384.30V1390.50" class="ax" stroke-width="2.00"/>
<path d="M1354.43 1271.20L1858.20 1061.13" class="fit" stroke-width="2.10"/>
<g class="pt"><circle cx="1356.3" cy="1277.5" r="3.60"/><circle cx="1367.5" cy="1269.8" r="3.60"/><circle cx="1378.6" cy="1258.3" r="3.60"/><circle cx="1389.8" cy="1254.6" r="3.60"/><circle cx="1400.9" cy="1250.5" r="3.60"/><circle cx="1412.0" cy="1235.3" r="3.60"/><circle cx="1423.2" cy="1231.6" r="3.60"/><circle cx="1445.5" cy="1220.1" r="3.60"/><circle cx="1467.8" cy="1212.4" r="3.60"/><circle cx="1490.1" cy="1204.6" r="3.60"/><circle cx="1512.4" cy="1200.9" r="3.60"/><circle cx="1534.6" cy="1185.7" r="3.60"/><circle cx="1568.4" cy="1182.0" r="3.60"/><circle cx="1601.5" cy="1178.2" r="3.60"/><circle cx="1613.0" cy="1174.2" r="3.60"/><circle cx="1624.1" cy="1170.5" r="3.60"/><circle cx="1634.9" cy="1166.4" r="3.60"/><circle cx="1657.6" cy="1162.7" r="3.60"/><circle cx="1668.4" cy="1159.0" r="3.60"/><circle cx="1690.7" cy="1147.5" r="3.60"/><circle cx="1701.8" cy="1140.1" r="3.60"/><circle cx="1713.0" cy="1132.3" r="3.60"/><circle cx="1724.1" cy="1128.6" r="3.60"/><circle cx="1735.3" cy="1124.9" r="3.60"/><circle cx="1746.4" cy="1120.5" r="3.60"/><circle cx="1768.4" cy="1113.1" r="3.60"/><circle cx="1779.5" cy="1094.5" r="3.60"/><circle cx="1791.0" cy="1090.4" r="3.60"/><circle cx="1802.1" cy="1086.7" r="3.60"/><circle cx="1813.3" cy="1079.0" r="3.60"/><circle cx="1824.4" cy="1063.8" r="3.60"/><circle cx="1835.6" cy="1043.8" r="3.60"/><circle cx="1846.7" cy="1040.8" r="3.60"/><circle cx="1857.5" cy="1036.7" r="3.60"/></g>
<text x="1293.05" y="1009.40" font-size="32.40" textLength="39.64" lengthAdjust="spacing">1.2</text>
<text x="1307.15" y="1086.10" font-size="32.40" transform="matrix(0.6663 0 0 1 437.160 0)">1</text>
<text x="1291.75" y="1162.40" font-size="32.40" textLength="41.10" lengthAdjust="spacing">0.8</text>
<text x="1291.62" y="1238.70" font-size="32.40" textLength="41.10" lengthAdjust="spacing">0.6</text>
<text x="1291.97" y="1315.00" font-size="32.40" textLength="39.94" lengthAdjust="spacing">0.4</text>
<text x="1291.97" y="1391.10" font-size="32.40">0.2</text>
<text x="1339.15" y="1420.50" font-size="33.00">0</text>
<text x="1436.85" y="1420.50" font-size="33.00" textLength="33.30" lengthAdjust="spacing">20</text>
<text x="1539.76" y="1420.50" font-size="33.00" textLength="33.30" lengthAdjust="spacing">40</text>
<text x="1641.87" y="1420.50" font-size="33.00" textLength="33.30" lengthAdjust="spacing">60</text>
<text x="1744.95" y="1420.50" font-size="33.00" textLength="33.30" lengthAdjust="spacing">80</text>
<text x="1841.93" y="1420.50" font-size="33.00" textLength="50.10" lengthAdjust="spacing">100</text>
<text x="1563.67" y="1452.90" font-size="32.50" textLength="114.96" lengthAdjust="spacing">CFD (%)</text>
<g transform="translate(1280.25 1214.40) rotate(-90)"><text x="-0.94" y="0.00" font-size="32.50" textLength="104.66" lengthAdjust="spacing">Lg (Co)</text></g>
<text x="1383.91" y="1023.80" font-size="31.80" textLength="245.50" lengthAdjust="spacing">y=0.0056x+0.4860</text>
<text x="1426.28" y="1055.50" font-size="31.80" textLength="143.42" lengthAdjust="spacing">R² =0.9659</text>
<circle cx="1397.50" cy="1079.00" r="3.75" class="mk"/>
<text x="1412.85" y="1087.60" font-size="29.50" textLength="313.42" lengthAdjust="spacing">Logarithm of Co content</text>
<path d="M1367.10 1111.70H1403.60" class="lg"/>
<text x="1405.74" y="1121.60" font-size="30.80" textLength="223.53" lengthAdjust="spacing">CFD fitting curve</text>
<path d="M105.50 1497.20V1880.00H616.50M99.30 1880.00H105.50M99.30 1816.20H105.50M99.30 1752.40H105.50M99.30 1688.60H105.50M99.30 1624.80H105.50M99.30 1561.00H105.50M99.30 1497.20H105.50M105.50 1880.00V1886.20M207.70 1880.00V1886.20M309.90 1880.00V1886.20M412.10 1880.00V1886.20M514.30 1880.00V1886.20M616.50 1880.00V1886.20" class="ax" stroke-width="2.00"/>
<path d="M115.72 1773.95L616.50 1546.67" class="fit" stroke-width="2.10"/>
<g class="pt"><circle cx="116.3" cy="1788.1" r="3.60"/><circle cx="126.4" cy="1767.9" r="3.60"/><circle cx="136.9" cy="1758.8" r="3.60"/><circle cx="157.4" cy="1757.8" r="3.60"/><circle cx="167.5" cy="1749.8" r="3.60"/><circle cx="177.6" cy="1748.7" r="3.60"/><circle cx="188.1" cy="1747.3" r="3.60"/><circle cx="197.8" cy="1747.3" r="3.60"/><circle cx="208.3" cy="1739.0" r="3.60"/><circle cx="218.4" cy="1727.1" r="3.60"/><circle cx="228.8" cy="1725.0" r="3.60"/><circle cx="238.9" cy="1724.3" r="3.60"/><circle cx="249.0" cy="1722.9" r="3.60"/><circle cx="259.1" cy="1714.2" r="3.60"/><circle cx="269.6" cy="1713.5" r="3.60"/><circle cx="279.7" cy="1708.0" r="3.60"/><circle cx="290.1" cy="1689.5" r="3.60"/><circle cx="300.2" cy="1687.1" r="3.60"/><circle cx="310.3" cy="1683.9" r="3.60"/><circle cx="320.8" cy="1672.1" r="3.60"/><circle cx="330.9" cy="1666.9" r="3.60"/><circle cx="341.3" cy="1663.7" r="3.60"/><circle cx="351.4" cy="1663.0" r="3.60"/><circle cx="361.5" cy="1655.4" r="3.60"/><circle cx="371.6" cy="1651.9" r="3.60"/><circle cx="382.1" cy="1651.2" r="3.60"/><circle cx="392.2" cy="1635.5" r="3.60"/><circle cx="402.3" cy="1632.7" r="3.60"/><circle cx="412.4" cy="1630.3" r="3.60"/><circle cx="422.5" cy="1626.8" r="3.60"/><circle cx="432.6" cy="1619.5" r="3.60"/><circle cx="443.0" cy="1617.4" r="3.60"/><circle cx="453.1" cy="1616.4" r="3.60"/><circle cx="463.2" cy="1614.6" r="3.60"/><circle cx="473.7" cy="1609.7" r="3.60"/><circle cx="483.8" cy="1608.0" r="3.60"/><circle cx="493.9" cy="1603.8" r="3.60"/><circle cx="504.3" cy="1602.8" r="3.60"/><circle cx="514.4" cy="1598.9" r="3.60"/><circle cx="524.5" cy="1597.9" r="3.60"/><circle cx="535.0" cy="1597.9" r="3.60"/><circle cx="544.7" cy="1586.8" r="3.60"/><circle cx="555.2" cy="1581.5" r="3.60"/><circle cx="565.6" cy="1574.9" r="3.60"/><circle cx="575.7" cy="1570.4" r="3.60"/><circle cx="596.3" cy="1558.5" r="3.60"/><circle cx="616.8" cy="1555.4" r="3.60"/></g>
<text x="50.55" y="1504.70" font-size="32.40" textLength="47.08" lengthAdjust="spacing">120</text>
<text x="50.55" y="1568.50" font-size="32.40" textLength="47.08" lengthAdjust="spacing">100</text>
<text x="58.55" y="1632.30" font-size="32.40" textLength="32.70" lengthAdjust="spacing">80</text>
<text x="58.47" y="1696.10" font-size="32.40" textLength="32.70" lengthAdjust="spacing">60</text>
<text x="58.85" y="1759.90" font-size="32.40" textLength="32.70" lengthAdjust="spacing">40</text>
<text x="58.48" y="1823.30" font-size="32.40">20</text>
<text x="68.27" y="1887.40" font-size="32.40">0</text>
<text x="101.05" y="1916.20" font-size="33.00">0</text>
<text x="197.65" y="1916.20" font-size="33.00" textLength="33.30" lengthAdjust="spacing">20</text>
<text x="300.26" y="1916.20" font-size="33.00">40</text>
<text x="401.77" y="1916.20" font-size="33.00">60</text>
<text x="504.55" y="1916.20" font-size="33.00">80</text>
<text x="601.53" y="1916.20" font-size="33.00" textLength="50.10" lengthAdjust="spacing">100</text>
<text x="322.57" y="1948.00" font-size="32.50" textLength="114.96" lengthAdjust="spacing">CFD (%)</text>
<g transform="translate(42.75 1745.00) rotate(-90)"><text x="-0.36" y="0.00" font-size="32.50" textLength="138.69" lengthAdjust="spacing">V (mg/kg)</text></g>
<text x="158.11" y="1527.40" font-size="31.80" textLength="260.00" lengthAdjust="spacing">y=0.7270x+31.7910</text>
<text x="199.38" y="1561.30" font-size="31.80" textLength="143.22" lengthAdjust="spacing">R² =0.9879</text>
<circle cx="171.70" cy="1580.50" r="3.75" class="mk"/>
<text x="187.76" y="1589.90" font-size="30.20" textLength="121.72" lengthAdjust="spacing">V content</text>
<path d="M128.90 1611.80H175.90" class="lg"/>
<text x="179.84" y="1624.70" font-size="30.80" textLength="223.53" lengthAdjust="spacing">CFD fitting curve</text>
</svg>
</body></html>
